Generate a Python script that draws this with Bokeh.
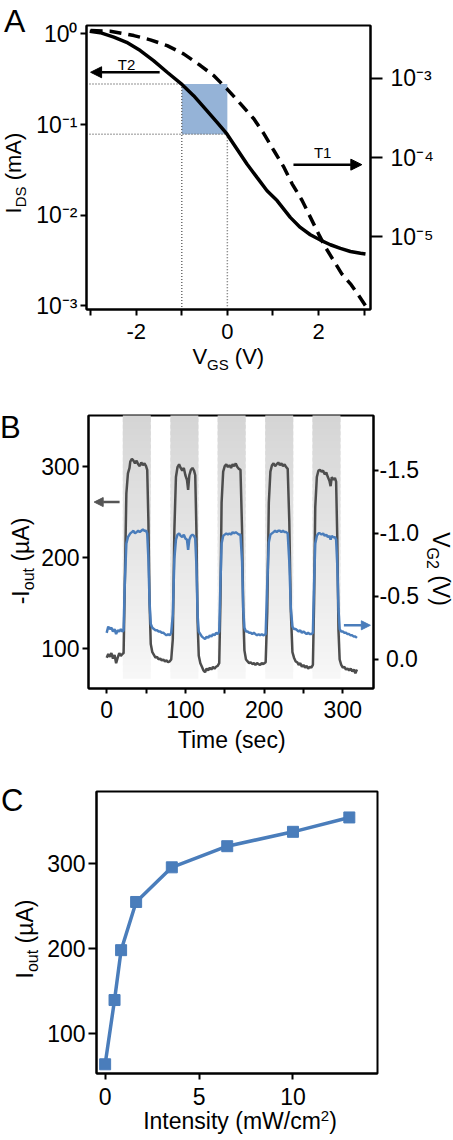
import math
from bokeh.plotting import figure
from bokeh.models import (Range1d, LogScale, LogAxis, LinearAxis, FixedTicker,
                          Label, Arrow, NormalHead, Div)
from bokeh.layouts import column, row
from bokeh.embed import file_html
from bokeh.resources import INLINE

FONT = "Liberation Sans"
BLUE = "#4a7dbb"
DARK = "#4d4d4d"

# ---------------- Panel A data ----------------
vgs_t2 = [-3.02, -2.79, -2.49, -2.21, -1.91, -1.62, -1.32, -0.99, -0.74, -0.45, -0.23, -0.01, 0.21,
          0.43, 0.65, 0.87, 1.09, 1.38, 1.60, 1.82, 2.04, 2.26, 2.48, 2.70, 2.92, 3.03]
ids_t2 = [1.07, 1.03, 0.92, 0.807, 0.654, 0.507, 0.377, 0.275, 0.208, 0.142, 0.106, 0.0787, 0.0538,
          0.0367, 0.0261, 0.0186, 0.0145, 0.00946, 0.00733, 0.00609, 0.00532, 0.00472, 0.00430,
          0.00398, 0.00380, 0.00373]
vgs_t1 = [-3.0, -2.57, -2.05, -1.69, -1.32, -0.96, -0.59, -0.30, -0.01, 0.29, 0.58, 0.80, 1.02,
          1.24, 1.42, 1.64, 1.82, 2.00, 2.15, 2.33, 2.51, 2.70, 2.88, 3.03]
ids_t1 = [4.0e-3, 3.92e-3, 3.45e-3, 3.05e-3, 2.58e-3, 2.03e-3, 1.445e-3, 1.08e-3, 7.35e-4, 4.75e-4,
          3.08e-4, 2.0e-4, 1.225e-4, 7.55e-5, 4.66e-5, 2.87e-5, 1.77e-5, 1.09e-5, 7.4e-6, 5.02e-6,
          3.41e-6, 2.55e-6, 1.82e-6, 1.35e-6]
box_vgs = [-1.0, 0.0]
box_ids = [0.078, 0.28]
A_x_ticks = [-2, 0, 2]
A_x_labels = ["-2", "0", "2"]
A_x_minor = [-3, -1, 1, 3]
A_left_ticks = [1e0, 1e-1, 1e-2, 1e-3]
A_left_labels = ["10\u2070", "10\u207b\u00b9", "10\u207b\u00b2", "10\u207b\u00b3"]
A_right_ticks = [1e-3, 1e-4, 1e-5]
A_right_labels = ["10\u207b\u00b3", "10\u207b\u2074", "10\u207b\u2075"]

# ---------------- Panel B data ----------------
t_B = [0, 2, 4, 6, 8, 10, 12, 14, 16, 18, 20, 21.5,
       23, 25, 27, 29,
       30, 32, 34, 36, 38, 40, 42, 44, 46, 48, 50, 51.5,
       53, 54.5, 56, 58,
       60, 62, 64, 66, 68, 70, 72, 74, 76, 78, 80, 82,
       84, 86, 88, 90,
       92, 94, 96, 98, 100, 102, 103.5, 105, 107, 109, 111, 112.5,
       114, 115.5, 117, 119,
       121, 123, 125, 127, 129, 131, 133, 135, 137, 139, 141, 143,
       144.5, 146, 148, 150,
       152, 154, 156, 158, 160, 162, 164, 166, 168, 170,
       172, 173.5, 175, 177,
       179, 181, 183, 185, 187, 189, 191, 193, 195, 197, 199, 202,
       204, 206, 208, 210,
       212, 214, 216, 218, 220, 222, 224, 226, 228, 230,
       232, 234, 236, 238,
       240, 242, 244, 246, 248, 250, 252, 254, 256, 258, 260, 262,
       263.5, 265, 267, 269,
       271, 273, 275, 277, 279, 281, 283, 284.5, 286, 288, 290, 291.5,
       293, 294.5, 296, 298,
       300, 302, 304, 306, 308, 310, 312, 314, 316, 318]
iout_B = [90, 94, 91, 95, 89, 93, 84, 90, 95, 92, 94, 95,
          170, 270, 292, 298,
          305, 308, 306, 303, 306, 302, 300, 304, 301, 303, 300, 296,
          240, 150, 105, 96,
          93, 90, 91, 88, 89, 87, 88, 86, 87, 85, 86, 88,
          110, 230, 288, 299,
          302, 298, 295, 298, 290, 285, 274, 290, 296, 298, 295, 290,
          230, 130, 92, 84,
          80, 76, 74, 78, 76, 79, 77, 80, 78, 80, 81, 84,
          150, 260, 294, 300,
          302, 299, 301, 298, 302, 300, 303, 299, 297, 296,
          230, 140, 98, 88,
          86, 84, 85, 83, 84, 82, 84, 83, 82, 84, 83, 85,
          140, 260, 294, 301,
          303, 300, 302, 304, 301, 303, 300, 302, 299, 297,
          240, 140, 96, 90,
          86, 85, 82, 84, 80, 82, 79, 81, 78, 80, 79, 82,
          150, 255, 288, 295,
          296, 294, 295, 291, 293, 288, 284, 278, 288, 285, 287, 283,
          220, 120, 88, 82,
          79, 80, 77, 78, 76, 78, 75, 77, 73, 77]
vg2_B = [-0.21, -0.26, -0.24, -0.25, -0.22, -0.24, -0.20, -0.23, -0.22, -0.24, -0.22, -0.23,
         -0.60, -0.92, -0.97, -0.99,
         -1.00, -1.01, -1.02, -1.00, -1.01, -1.02, -1.01, -1.02, -1.03, -1.02, -1.02, -1.00,
         -0.80, -0.45, -0.28, -0.25,
         -0.24, -0.23, -0.23, -0.22, -0.22, -0.21, -0.21, -0.20, -0.19, -0.20, -0.19, -0.21,
         -0.35, -0.80, -0.95, -0.99,
         -1.00, -0.98, -0.97, -0.99, -0.96, -0.95, -0.87, -0.95, -0.98, -0.99, -0.98, -0.96,
         -0.75, -0.35, -0.22, -0.20,
         -0.18, -0.17, -0.16, -0.18, -0.17, -0.19, -0.18, -0.20, -0.19, -0.21, -0.20, -0.22,
         -0.60, -0.92, -0.98, -0.99,
         -1.00, -0.99, -1.00, -0.99, -1.01, -1.00, -1.01, -1.00, -0.99, -0.99,
         -0.78, -0.40, -0.25, -0.22,
         -0.22, -0.21, -0.21, -0.20, -0.21, -0.20, -0.19, -0.20, -0.19, -0.20, -0.19, -0.20,
         -0.60, -0.93, -0.99, -1.00,
         -1.01, -1.02, -1.01, -1.02, -1.02, -1.01, -1.02, -1.01, -1.01, -1.00,
         -0.78, -0.40, -0.26, -0.24,
         -0.24, -0.23, -0.22, -0.23, -0.21, -0.22, -0.21, -0.20, -0.21, -0.20, -0.20, -0.21,
         -0.60, -0.92, -0.98, -1.00,
         -1.00, -0.99, -1.00, -0.98, -0.99, -0.97, -0.98, -0.95, -0.98, -0.97, -0.97, -0.95,
         -0.75, -0.40, -0.24, -0.22,
         -0.22, -0.21, -0.21, -0.20, -0.20, -0.19, -0.19, -0.18, -0.18, -0.17]
band_on = [20.5, 81, 141, 201.5, 261.5]
band_off = [56, 116.5, 176.5, 237, 297]
band_bottom = 67
B_x_ticks = [0, 100, 200, 300]
B_x_minor = [50, 150, 250]
B_y_ticks = [100, 200, 300]
B_r_ticks = [-1.5, -1.0, -0.5, 0.0]
B_r_labels = ["-1.5", "-1.0", "-0.5", "\u20080.0"]

# ---------------- Panel C data ----------------
intensity_C = [0.0, 0.5, 0.85, 1.65, 3.55, 6.5, 10.0, 13.0]
iout_C = [63, 139, 198, 255, 296, 321, 338, 355]
C_x_ticks = [0, 5, 10]
C_y_ticks = [100, 200, 300]

assert len(t_B) == len(iout_B) == len(vg2_B)
assert len(vgs_t1) == len(ids_t1) and len(vgs_t2) == len(ids_t2)


def base_fig(w, h, xr, yr, bl, br, bt, bb, ytype="linear"):
    p = figure(width=w, height=h, x_range=xr, y_range=yr, y_axis_type=ytype, title=None,
               output_backend="svg", toolbar_location=None,
               min_border_left=bl, min_border_right=br, min_border_top=bt, min_border_bottom=bb)
    p.xgrid.visible = False
    p.ygrid.visible = False
    p.outline_line_color = "black"
    p.outline_line_width = 2
    p.outline_line_alpha = 1
    p.background_fill_color = "white"
    p.border_fill_color = "white"
    return p


def style_axis(ax, ticks, labels=None, minor=None, tick_out=6, fs="23px", standoff=3):
    ax.ticker = FixedTicker(ticks=ticks, minor_ticks=minor or [])
    if labels is not None:
        ax.major_label_overrides = {t: l for t, l in zip(ticks, labels)}
    ax.axis_line_width = 2
    ax.axis_line_color = "black"
    ax.major_tick_line_width = 2
    ax.major_tick_line_color = "black"
    ax.major_tick_out = tick_out
    ax.major_tick_in = 0
    ax.minor_tick_line_width = 2
    ax.minor_tick_line_color = "black"
    ax.minor_tick_out = tick_out if minor else 0
    ax.minor_tick_in = 0
    ax.major_label_text_font = FONT
    ax.major_label_text_font_size = fs
    ax.major_label_text_color = "black"
    ax.major_label_standoff = standoff


def txt(p, text, x, y, size=23, align="left", baseline="alphabetic", angle=0.0):
    p.add_layout(Label(x=x, y=y, text=text, text_font=FONT, text_font_size=f"{size}px",
                       text_align=align, text_baseline=baseline, angle=angle, text_color="black"))


# ---------- HTML text strips (titles and panel letters outside the plot frames) ----------
ASC, DESC = 0.905, 0.212


def bo(fs, lh):
    """distance from the top of a line box to the text baseline"""
    return (lh - (ASC + DESC) * fs) / 2 + ASC * fs


def sub(t, fs, drop):
    return f'<span style="font-size:{fs}px;line-height:0;vertical-align:-{drop}px">{t}</span>'


def sup(t, fs, rise):
    return f'<span style="font-size:{fs}px;line-height:0;vertical-align:{rise}px">{t}</span>'


def hline(html, cx, base_y, fs, L=300):
    top = base_y - bo(fs, fs)
    return (f'<div style="position:absolute;left:{cx - L / 2:.2f}px;top:{top:.2f}px;width:{L}px;'
            f'height:{fs}px;line-height:{fs}px;font-size:{fs}px;text-align:center;white-space:nowrap;">'
            f'{html}</div>')


def letter(t, left, base_y, fs):
    top = base_y - bo(fs, fs)
    return (f'<div style="position:absolute;left:{left}px;top:{top:.2f}px;line-height:{fs}px;'
            f'font-size:{fs}px;white-space:nowrap;">{t}</div>')


def vline(html, base_x, cy, fs, up=True, L=220):
    b = bo(fs, fs)
    if up:
        x, y, rot = base_x - b, cy + L / 2, -90
    else:
        x, y, rot = base_x + b, cy - L / 2, 90
    return (f'<div style="position:absolute;left:{x:.2f}px;top:{y:.2f}px;width:{L}px;height:{fs}px;'
            f'line-height:{fs}px;font-size:{fs}px;text-align:center;white-space:nowrap;'
            f'transform-origin:0 0;transform:rotate({rot}deg);">{html}</div>')


def strip(w, h, items):
    inner = "".join(items)
    html = (f'<div style="position:relative;width:{w}px;height:{h}px;overflow:visible;'
            f'font-family:\'{FONT}\',Arial,sans-serif;color:#000;">{inner}</div>')
    return Div(text=html, width=w, height=h, margin=0, styles={"overflow": "visible"})


# ======================= Panel A =======================
axr = (-3.09, 3.14)
ayr = (10 ** -3.04, 10 ** 0.092)
ayr2 = (10 ** -5.917, 10 ** -2.335)
MA = base_fig(420, 348, Range1d(*axr), Range1d(*ayr), 54, 82, 25, 39, ytype="log")
MA.extra_y_ranges = {"r": Range1d(*ayr2)}
MA.extra_y_scales = {"r": LogScale()}
rax = LogAxis(y_range_name="r")
MA.add_layout(rax, "right")
style_axis(MA.xaxis[0], A_x_ticks, A_x_labels, A_x_minor, fs="22px", standoff=8)
style_axis(MA.yaxis[0], A_left_ticks, A_left_labels, fs="23px", standoff=3)
style_axis(rax, A_right_ticks, A_right_labels, tick_out=12, fs="23px", standoff=8)

MA.quad(left=[box_vgs[0]], right=[box_vgs[1]], bottom=[box_ids[0]], top=[box_ids[1]],
        fill_color="#95b3d7", line_color=None)
MA.segment(x0=[axr[0], axr[0], box_vgs[0], box_vgs[1]],
           y0=[box_ids[1], box_ids[0], box_ids[1], box_ids[0]],
           x1=[box_vgs[0], box_vgs[1], box_vgs[0], box_vgs[1]],
           y1=[box_ids[1], box_ids[0], ayr[0], ayr[0]],
           line_color="#6e6e6e", line_width=1.5, line_dash="1 2")
MA.line(vgs_t1, ids_t1, y_range_name="r", line_color="black", line_width=3.5, line_dash="12 7")
MA.line(vgs_t2, ids_t2, line_color="black", line_width=3.5)
MA.add_layout(Arrow(end=NormalHead(size=11, fill_color="black", line_color="black"),
                    x_start=-1.485, y_start=0.377, x_end=-3.0, y_end=0.377,
                    line_color="black", line_width=2.5))
MA.add_layout(Arrow(end=NormalHead(size=11, fill_color="black", line_color="black"),
                    x_start=1.45, y_start=0.0361, x_end=2.95, y_end=0.0361,
                    line_color="black", line_width=2.5))
txt(MA, "T2", -2.21, 0.46, size=15, align="center", baseline="middle")
txt(MA, "T1", 2.09, 0.0493, size=15, align="center", baseline="middle")

LA = strip(32, 348, [
    letter("A", 4, 32, 32),
    vline("I" + sub("DS", 15, 5) + " (mA)", 22, 173, 22, up=True),
])
BA = strip(452, 26, [
    hline("V" + sub("GS", 15, 6) + " (V)", 228.3, 17, 22),
])

# ======================= Panel B =======================
bxr = (-23.1, 339)
byr = (56.2, 355.5)
bvr = (0.232, -1.936)
MB = base_fig(386, 356, Range1d(*bxr), Range1d(*byr), 48, 51, 41, 42)
MB.extra_y_ranges = {"v": Range1d(*bvr)}
vax = LinearAxis(y_range_name="v")
MB.add_layout(vax, "right")
style_axis(MB.xaxis[0], B_x_ticks, minor=B_x_minor, tick_out=5, standoff=7)
style_axis(MB.yaxis[0], B_y_ticks, tick_out=6, standoff=3)
style_axis(vax, B_r_ticks, B_r_labels, tick_out=5, standoff=1)

# light-on bands drawn with a vertical gradient
n_sl = 40
c_top = (0xd5, 0xd5, 0xd5)
c_bot = (0xf7, 0xf7, 0xf7)
span = byr[1] - band_bottom
for k in range(n_sl):
    f = (k + 0.5) / n_sl
    col = "#%02x%02x%02x" % tuple(int(round(c_bot[i] + (c_top[i] - c_bot[i]) * f)) for i in range(3))
    y0 = band_bottom + span * k / n_sl
    y1 = min(band_bottom + span * (k + 1.6) / n_sl, byr[1] + 5)
    MB.quad(left=band_on, right=band_off, bottom=[y0] * len(band_on), top=[y1] * len(band_on),
            fill_color=col, line_color=None)

MB.line(t_B, iout_B, line_color=DARK, line_width=2.5)
MB.line(t_B, vg2_B, y_range_name="v", line_color=BLUE, line_width=2.5)
MB.add_layout(Arrow(end=NormalHead(size=9, fill_color="#555555", line_color="#555555"),
                    x_start=16.4, y_start=260.6, x_end=-15.9, y_end=260.6,
                    line_color="#555555", line_width=2.5))
MB.add_layout(Arrow(end=NormalHead(size=9, fill_color=BLUE, line_color=BLUE),
                    x_start=301.4, y_start=125.5, x_end=335, y_end=125.5,
                    line_color=BLUE, line_width=2.5))

LB = strip(38, 356, [
    letter("B", 0, 64, 31),
    vline("-I" + sub("out", 16, 5) + " (\u00b5A)", 29, 187, 23, up=True),
])
RB = strip(28, 356, [
    vline("V" + sub("G2", 16, 6) + " (V)", 9, 195, 23, up=False),
])
BB = strip(452, 30, [
    hline("Time (sec)", 231.7, 18, 23),
])

# ======================= Panel C =======================
cxr = (-0.46, 14.5)
cyr = (52.1, 385.7)
MC = base_fig(408, 353, Range1d(*cxr), Range1d(*cyr), 51, 75, 31, 40)
style_axis(MC.xaxis[0], C_x_ticks, tick_out=6, standoff=8)
style_axis(MC.yaxis[0], C_y_ticks, tick_out=8, standoff=3)
MC.line(intensity_C, iout_C, line_color=BLUE, line_width=3.5)
MC.scatter(intensity_C, iout_C, marker="square", size=11, fill_color=BLUE, line_color=BLUE)

LC = strip(44, 353, [
    letter("C", 1, 51, 31),
    vline("I" + sub("out", 16, 5) + " (\u00b5A)", 33, 179, 23, up=True),
])
BC = strip(452, 25, [
    hline("Intensity (mW/cm" + sup("2", 15, 8) + ")", 240, 16, 23),
])

layout = column(row(LA, MA), BA, row(LB, MB, RB), BB, row(LC, MC), BC)
open("out.html", "w").write(file_html(layout, INLINE))
